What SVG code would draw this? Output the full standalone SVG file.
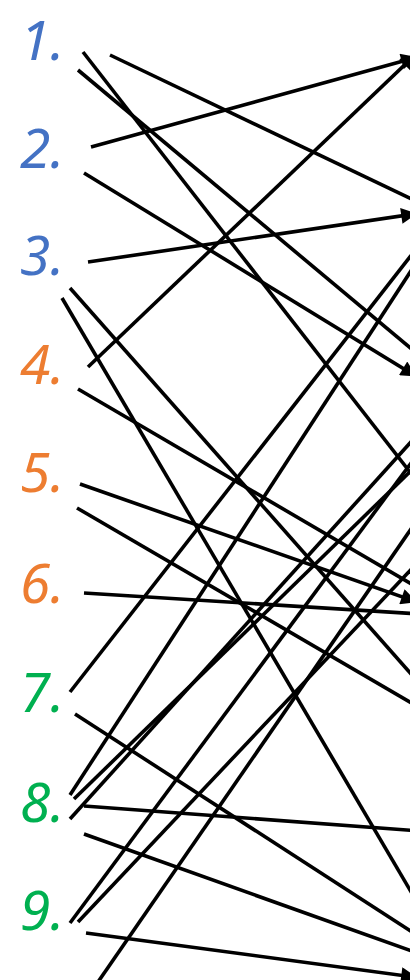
<svg xmlns="http://www.w3.org/2000/svg" width="410" height="980" viewBox="0 0 410 980">
<style>
.n{font-family:"Noto Sans","Open Sans",sans-serif;font-style:italic;font-size:55px}
.b{fill:#4472C4}.o{fill:#ED7D31}.g{fill:#00B050}
#links line{stroke:#000;stroke-width:3.6;fill:none}
.a{marker-end:url(#ah)}
</style>
<defs>
<marker id="ah" viewBox="0 0 10 10" refX="8" refY="5" markerWidth="18" markerHeight="16" markerUnits="userSpaceOnUse" orient="auto">
<path d="M0,0 L10,5 L0,10 z" fill="#000"/>
</marker>
</defs>
<rect width="410" height="980" fill="#fff"/>
<g id="n1"><text class="n b" x="20" y="60">1.</text></g>
<g id="n2"><text class="n b" x="20" y="168">2.</text></g>
<g id="n3"><text class="n b" x="20" y="275">3.</text></g>
<g id="n4"><text class="n o" x="20" y="384">4.</text></g>
<g id="n5"><text class="n o" x="20" y="492">5.</text></g>
<g id="n6"><text class="n o" x="20" y="603">6.</text></g>
<g id="n7"><text class="n g" x="20" y="712">7.</text></g>
<g id="n8"><text class="n g" x="20" y="822">8.</text></g>
<g id="n9"><text class="n g" x="20" y="930">9.</text></g>
<g id="links">
<line x1="83" y1="52" x2="420" y2="485"/>
<line x1="78" y1="70" x2="420" y2="356"/>
<line x1="110" y1="55" x2="420" y2="203"/>
<line class="a" x1="91" y1="147" x2="414" y2="58"/>
<line class="a" x1="84" y1="173" x2="414" y2="375"/>
<line class="a" x1="88" y1="262" x2="414" y2="214"/>
<line x1="70" y1="288" x2="420" y2="684"/>
<line x1="62" y1="298" x2="420" y2="907"/>
<line class="a" x1="88" y1="367" x2="414" y2="56"/>
<line x1="78" y1="389" x2="420" y2="589"/>
<line class="a" x1="80" y1="484" x2="414" y2="601"/>
<line x1="77" y1="508" x2="420" y2="708"/>
<line x1="84" y1="593" x2="420" y2="614"/>
<line x1="70" y1="692" x2="420" y2="244"/>
<line x1="75" y1="714" x2="420" y2="937"/>
<line x1="70" y1="795" x2="420" y2="257"/>
<line x1="74" y1="799" x2="420" y2="462"/>
<line x1="70" y1="819" x2="420" y2="432"/>
<line x1="84" y1="806" x2="420" y2="831"/>
<line x1="84" y1="834" x2="420" y2="954"/>
<line x1="70" y1="923" x2="420" y2="451"/>
<line x1="78" y1="922" x2="420" y2="560"/>
<line class="a" x1="86" y1="933" x2="414" y2="977"/>
<line x1="98" y1="982" x2="420" y2="516"/>
</g>
</svg>
